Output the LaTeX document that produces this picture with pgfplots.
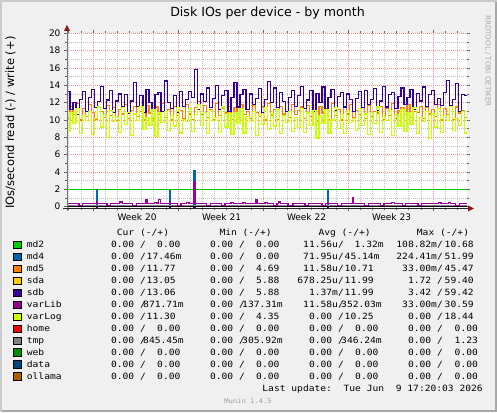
\documentclass[border=0pt]{standalone}
\usepackage{fontspec}
\setmainfont{DejaVu Sans}
\newfontfamily\monof[FakeStretch=1.12]{DejaVu Sans Mono}
\usepackage{pgfplots}
\usepackage{pgfplotstable}
\pgfplotsset{compat=1.18}
\definecolor{cmdtwo}{HTML}{00CC00}
\definecolor{cmdfour}{HTML}{0066B3}
\definecolor{cmdfive}{HTML}{FF8000}
\definecolor{csda}{HTML}{FFCC00}
\definecolor{csdb}{HTML}{330099}
\definecolor{cvarlib}{HTML}{990099}
\definecolor{cvarlog}{HTML}{CCFF00}
\definecolor{chome}{HTML}{FF0000}
\definecolor{ctmp}{HTML}{808080}
\definecolor{cweb}{HTML}{008F00}
\definecolor{cdata}{HTML}{00487D}
\definecolor{collama}{HTML}{B35A00}
\definecolor{canvas}{HTML}{F0F0F0}
\definecolor{shadea}{HTML}{CBCBCB}
\definecolor{shadeb}{HTML}{A8A8A8}
\definecolor{arrowred}{HTML}{8B1A1A}
\newcommand\mono{\monof\fontsize{8.6}{10}\selectfont}
\newcommand\cv[5]{%
  \node[anchor=mid east, inner sep=0pt] at (#1pt,#2pt) {\mono #3};
  \node[anchor=mid west, inner sep=0pt, xshift=#5pt] at (#1pt,#2pt) {\mono #4};}
\newcommand\lname[3]{%
  \draw[black, fill=#1, line width=0.6pt] (13.5pt,#2pt-3.8pt) rectangle (21pt,#2pt+3.8pt);
  \node[anchor=mid west, inner sep=0pt] at (26.7pt,#2pt) {\mono #3};}

\pgfplotstableread{
x sdb md5 vl
0.00 13.3 10.2 8.7
0.25 11.2 11.6 10.8
0.50 12.0 10.6 9.6
0.75 10.6 11.9 11.3
1.00 12.4 10.0 8.4
1.25 13.3 11.3 10.5
1.50 11.0 10.4 9.9
1.75 12.6 11.8 11.0
2.00 13.5 10.9 8.3
2.25 11.4 10.1 10.2
2.50 12.1 11.5 11.5
2.75 13.9 11.0 9.2
3.00 11.3 10.3 10.6
3.25 12.3 11.7 8.0
3.50 13.4 10.5 11.1
3.75 10.9 11.4 9.8
4.00 12.2 9.9 10.4
4.25 13.0 11.2 8.6
4.50 11.5 10.7 11.4
4.75 12.9 11.8 9.5
5.00 10.8 10.2 10.9
5.25 12.2 11.1 8.2
5.50 14.3 11.6 10.7
5.75 11.6 10.4 9.9
6.00 12.8 11.0 11.6
6.25 10.9 10.0 8.9
6.50 13.5 11.7 10.3
6.75 12.0 10.8 9.4
7.00 11.2 10.2 11.2
7.25 12.9 11.5 8.1
7.50 13.2 10.6 10.8
7.75 11.0 11.9 9.7
8.00 14.5 10.3 11.0
8.25 12.0 11.2 8.8
8.50 11.3 10.0 10.5
8.75 12.8 11.6 9.3
9.00 10.9 10.5 11.4
9.25 13.3 11.1 8.5
9.50 11.6 10.2 10.1
9.75 12.4 11.8 9.8
10.00 13.3 10.7 11.3
10.25 12.6 10.1 8.7
10.50 15.8 11.4 10.6
10.75 11.2 12.1 11.8
11.00 13.0 10.6 9.4
11.25 12.1 11.7 10.9
11.50 13.7 10.3 8.4
11.75 11.4 11.2 11.1
12.00 12.5 10.0 9.9
12.25 14.0 11.9 10.3
12.50 11.2 10.5 8.6
12.75 12.8 11.3 11.5
13.00 13.4 10.8 9.2
13.25 11.0 11.6 10.7
13.50 12.6 10.1 8.3
13.75 14.3 11.4 10.9
14.00 11.5 10.3 9.6
14.25 12.9 11.8 11.3
14.50 13.5 10.6 8.5
14.75 11.2 11.0 10.4
15.00 13.0 10.2 9.8
15.25 11.8 11.7 11.0
15.50 12.5 10.9 8.2
15.75 13.6 10.4 10.6
16.00 10.9 11.5 9.5
16.25 12.4 10.0 11.4
16.50 14.4 11.9 8.9
16.75 12.0 10.5 10.7
17.00 13.7 11.2 9.3
17.25 11.4 10.1 11.2
17.50 13.2 11.6 8.4
17.75 12.1 10.7 10.5
18.00 11.0 11.0 9.7
18.25 12.6 10.3 11.0
18.50 13.4 11.8 8.7
18.75 11.6 10.6 10.3
19.00 12.8 11.1 9.1
19.25 13.9 11.5 11.3
19.50 11.3 10.2 8.6
19.75 12.3 11.7 10.8
20.00 13.4 10.4 9.4
20.25 11.0 11.0 11.1
20.50 13.1 9.8 7.9
20.75 12.0 11.6 10.5
21.00 13.8 10.8 9.6
21.25 11.2 11.3 11.2
21.50 12.6 10.1 8.5
21.75 13.5 11.9 10.0
22.00 11.1 10.5 11.4
22.25 12.7 11.2 9.0
22.50 13.2 10.0 10.6
22.75 11.5 11.5 8.4
23.00 13.0 10.7 11.0
23.25 12.4 11.8 9.7
23.50 11.0 10.3 10.2
23.75 12.5 11.1 8.8
24.00 13.3 10.6 11.3
24.25 11.4 11.4 9.4
24.50 13.4 10.2 10.7
24.75 11.8 11.7 8.3
25.00 12.4 10.4 10.9
25.25 13.6 11.0 9.6
25.50 11.1 10.8 11.5
25.75 12.2 11.6 8.6
26.00 13.9 10.1 10.4
26.25 11.5 11.3 9.9
26.50 12.9 10.5 11.1
26.75 13.2 11.9 8.2
27.00 11.3 10.2 10.6
27.25 12.7 11.1 9.3
27.50 13.7 11.4 11.2
27.75 11.8 10.6 8.7
28.00 12.6 11.8 10.8
28.25 13.5 10.3 9.5
28.50 11.2 11.0 11.4
28.75 13.1 10.9 8.4
29.00 12.2 11.6 10.3
29.25 13.8 10.2 9.8
29.50 11.6 11.5 11.0
29.75 12.9 10.7 7.9
30.00 13.4 11.2 10.7
30.25 11.8 10.4 9.2
30.50 12.5 11.8 11.3
30.75 11.7 10.0 8.6
31.00 13.2 11.3 10.5
31.25 14.6 10.6 9.9
31.50 11.7 11.7 11.6
31.75 12.4 10.1 8.8
32.00 14.2 11.5 10.2
32.25 11.0 10.8 9.4
32.50 12.9 11.1 11.0
32.75 12.8 10.3 8.5
33.00 12.8 10.3 8.5
}\mainio

\begin{document}
\begin{tikzpicture}[x=1pt,y=1pt]
\useasboundingbox (0,0) rectangle (497,412);
\fill[shadea] (0,0) rectangle (497,412);
\fill[shadeb] (2,0) rectangle (497,410);
\fill[canvas] (2,2.5) rectangle (494.5,410);

\begin{axis}[
  at={(67pt,203.6pt)}, anchor=south west,
  scale only axis, width=400pt, height=175.07pt,
  xmin=0, xmax=32.94, ymin=-0.2, ymax=20,
  axis background/.style={fill=white},
  axis line style={draw=none},
  xtick={2.14,9.14,16.14,23.14,30.14}, xticklabels={,,,,},
  minor xtick={0.14,1.14,...,32.2},
  ytick={0,2,...,20}, minor ytick={1,3,...,19},
  grid=both,
  major grid style={draw=red!45, dash pattern=on 1pt off 1pt, line width=0.6pt},
  minor grid style={draw=black!25, dash pattern=on 1pt off 1pt, line width=0.6pt},
  tick align=outside, major tick length=3pt, minor tick length=2pt,
  tick style={black!60, line width=0.6pt},
  yticklabel style={font=\fontsize{9}{10}\selectfont},
  /pgf/number format/assume math mode=true,
  clip=true,
]
% md2
\addplot[cmdtwo, line width=1pt] coordinates {(0,2) (32.94,2)};
% md4 writes
\addplot[const plot, cmdfour, line width=1.3pt] coordinates {(0,0) (2.42,2.0) (2.52,0) (8.42,1.8) (8.52,0) (10.45,4.1) (10.55,0) (21.45,2.0) (21.55,0) (32.94,0)};
% md5
\addplot[const plot, cmdfive, line width=1.2pt] table[x=x, y=md5] {\mainio};
% sda (under sdb)
\addplot[const plot, csda, line width=1.2pt] table[x=x, y=sdb] {\mainio};
% sdb
\addplot[const plot, csdb, line width=1.25pt] table[x=x, y=sdb] {\mainio};
% tmp
\addplot[ctmp, line width=0.8pt] coordinates {(0,0.2) (32.94,0.2)};
% varLib
\addplot[const plot, cvarlib, line width=1.3pt] coordinates {(0,0.35) (1.0,0.15) (1.3,0.35) (2.42,0.6) (2.52,0.35) (3.3,0.15) (3.6,0.35) (4.35,0.55) (4.55,0.35) (5.4,0.15) (5.7,0.35) (6.5,0.85) (6.65,0.35) (7.2,0.5) (7.4,0.35) (7.55,0.8) (7.7,0.35) (8.42,0.55) (8.52,0.35) (9.1,0.15) (9.4,0.35) (9.85,0.5) (10.05,0.35) (10.45,2.9) (10.55,0.35) (11.5,0.15) (11.8,0.35) (12.7,0.15) (13.0,0.35) (13.5,0.5) (13.7,0.35) (14.5,0.5) (14.7,0.35) (15.5,0.8) (15.65,0.35) (16.3,0.5) (16.5,0.35) (17.0,0.15) (17.3,0.35) (17.4,0.55) (17.6,0.35) (18.2,0.15) (18.6,0.35) (19.6,0.15) (19.9,0.35) (21.0,0.15) (21.3,0.35) (21.45,0.5) (21.55,0.35) (22.3,0.15) (22.6,0.35) (23.5,1.0) (23.6,0.35) (24.5,0.15) (24.8,0.35) (25.8,0.15) (26.1,0.35) (26.75,0.5) (26.95,0.35) (27.6,0.15) (27.9,0.35) (28.9,0.15) (29.2,0.35) (30.6,0.5) (30.8,0.35) (31.4,0.5) (31.6,0.35) (32.0,0.15) (32.3,0.35) (32.94,0.35)};
% varLog
\addplot[const plot, cvarlog, line width=1.25pt] table[x=x, y=vl] {\mainio};
% sdb reads (negative)
\addplot[const plot, csdb, line width=1.2pt] coordinates {(0,0) (2.42,-0.25) (2.52,0) (8.42,-0.25) (8.52,0) (10.45,-0.25) (10.55,0) (21.45,-0.25) (21.55,0) (32.94,0)};
% zero line
\addplot[black, line width=1.2pt] coordinates {(0,0) (32.94,0)};
\end{axis}

% axes lines and arrows
\draw[black!55, line width=1pt] (67,201) -- (67,381);
\fill[arrowred] (64,381) -- (70,381) -- (67,387) -- cycle;
\draw[black!85, line width=1pt] (63,203.6) -- (468,203.6);
\fill[arrowred] (468,200.6) -- (468,206.6) -- (474,203.6) -- cycle;

% week labels
\node[font=\fontsize{9}{10}\selectfont] at (137,195.3) {Week 20};
\node[font=\fontsize{9}{10}\selectfont] at (221.5,195.3) {Week 21};
\node[font=\fontsize{9}{10}\selectfont] at (306.5,195.3) {Week 22};
\node[font=\fontsize{9}{10}\selectfont] at (391.5,195.3) {Week 23};

% title and labels
\node[font=\fontsize{12.6}{14}\selectfont] at (267.5,398.5) {Disk IOs per device - by month};
\node[rotate=90, font=\fontsize{11.5}{12}\selectfont] at (10.5,289.5) {IOs/second read (-) / write (+)};
\node[rotate=-90, font=\fontsize{7.1}{8}\selectfont, text=black!35] at (488,351) {RRDTOOL / TOBI OETIKER};

% legend header
\node[anchor=mid west, inner sep=0pt] at (116.7,179) {\mono Cur (-/+)};
\node[anchor=mid west, inner sep=0pt] at (219.3,179) {\mono Min (-/+)};
\node[anchor=mid west, inner sep=0pt] at (318.3,179) {\mono Avg (-/+)};
\node[anchor=mid west, inner sep=0pt] at (416.7,179) {\mono Max (-/+)};

% md2
\lname{cmdtwo}{167}{md2}
\cv{146}{167}{0.00 /}{0.00}{11}
\cv{245}{167}{0.00 /}{0.00}{11}
\cv{344}{167}{11.56u/}{1.32m}{10.5}
\cv{443}{167}{108.82m/}{10.68}{1.5}
% md4
\lname{cmdfour}{155.05}{md4}
\cv{146}{155.05}{0.00 /}{17.46m}{0.5}
\cv{245}{155.05}{0.00 /}{0.00}{11}
\cv{344}{155.05}{71.95u/}{45.14m}{0.5}
\cv{443}{155.05}{224.41m/}{51.99}{1.5}
% md5
\lname{cmdfive}{143.1}{md5}
\cv{146}{143.1}{0.00 /}{11.77}{0.5}
\cv{245}{143.1}{0.00 /}{4.69}{11}
\cv{344}{143.1}{11.58u/}{10.71}{0.5}
\cv{443}{143.1}{33.00m/}{45.47}{1.5}
% sda
\lname{csda}{131.15}{sda}
\cv{146}{131.15}{0.00 /}{13.05}{0.5}
\cv{245}{131.15}{0.00 /}{5.88}{11}
\cv{344}{131.15}{678.25u/}{11.99}{0.5}
\cv{443}{131.15}{1.72 /}{59.40}{1.5}
% sdb
\lname{csdb}{119.2}{sdb}
\cv{146}{119.2}{0.00 /}{13.06}{0.5}
\cv{245}{119.2}{0.00 /}{5.88}{11}
\cv{344}{119.2}{1.37m/}{11.99}{0.5}
\cv{443}{119.2}{3.42 /}{59.42}{1.5}
% varLib
\lname{cvarlib}{107.25}{varLib}
\cv{146}{107.25}{0.00 /}{871.71m}{-3}
\cv{245}{107.25}{0.00 /}{137.31m}{-3}
\cv{344}{107.25}{11.58u/}{352.03m}{-3}
\cv{443}{107.25}{33.00m/}{30.59}{1.5}
% varLog
\lname{cvarlog}{95.3}{varLog}
\cv{146}{95.3}{0.00 /}{11.30}{0.5}
\cv{245}{95.3}{0.00 /}{4.35}{11}
\cv{344}{95.3}{0.00 /}{10.25}{0.5}
\cv{443}{95.3}{0.00 /}{18.44}{1.5}
% home
\lname{chome}{83.35}{home}
\cv{146}{83.35}{0.00 /}{0.00}{11}
\cv{245}{83.35}{0.00 /}{0.00}{11}
\cv{344}{83.35}{0.00 /}{0.00}{11}
\cv{443}{83.35}{0.00 /}{0.00}{11.5}
% tmp
\lname{ctmp}{71.4}{tmp}
\cv{146}{71.4}{0.00 /}{845.45m}{-3}
\cv{245}{71.4}{0.00 /}{305.92m}{-3}
\cv{344}{71.4}{0.00 /}{346.24m}{-3}
\cv{443}{71.4}{0.00 /}{1.23}{11.5}
% web
\lname{cweb}{59.45}{web}
\cv{146}{59.45}{0.00 /}{0.00}{11}
\cv{245}{59.45}{0.00 /}{0.00}{11}
\cv{344}{59.45}{0.00 /}{0.00}{11}
\cv{443}{59.45}{0.00 /}{0.00}{11.5}
% data
\lname{cdata}{47.5}{data}
\cv{146}{47.5}{0.00 /}{0.00}{11}
\cv{245}{47.5}{0.00 /}{0.00}{11}
\cv{344}{47.5}{0.00 /}{0.00}{11}
\cv{443}{47.5}{0.00 /}{0.00}{11.5}
% ollama
\lname{collama}{35.55}{ollama}
\cv{146}{35.55}{0.00 /}{0.00}{11}
\cv{245}{35.55}{0.00 /}{0.00}{11}
\cv{344}{35.55}{0.00 /}{0.00}{11}
\cv{443}{35.55}{0.00 /}{0.00}{11.5}

\node[anchor=mid east, inner sep=0pt] at (483,23.3) {\mono Last update:\ \ Tue Jun\ \ 9 17:20:03 2026};
\node[inner sep=0pt, text=black!38] at (248,11) {\monof\fontsize{6.4}{7}\selectfont Munin 1.4.5};
\end{tikzpicture}
\end{document}
